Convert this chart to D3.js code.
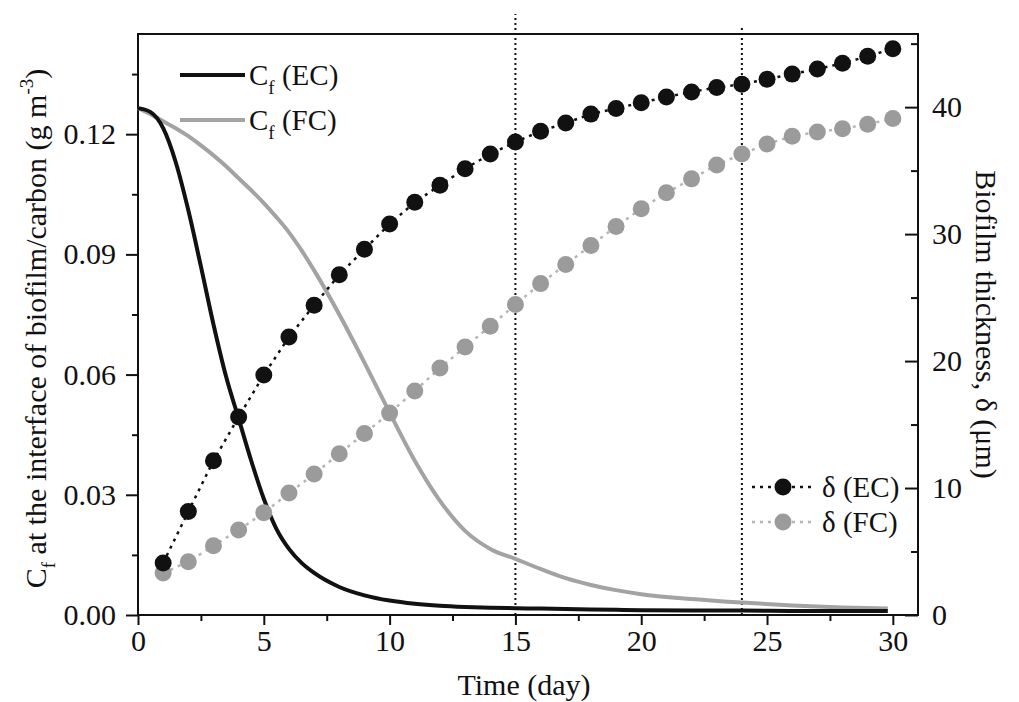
<!DOCTYPE html>
<meta charset="UTF-8">
<style>
    body { margin: 0; background: #fff; }
    text { font-family: "Liberation Serif", "Times New Roman", serif; fill: #111; }
    .axis path, .axis line { stroke: #111; stroke-width: 2px; }
    .axis text { font-size: 30px; font-family: "Liberation Serif", serif; fill: #111; }
</style>
<body>
<div id="chart"></div>
<script src="https://d3js.org/d3.v7.min.js"></script>
<script>

// days of the thickness measurements
var days = [1, 2, 3, 4, 5, 6, 7, 8, 9, 10, 11, 12, 13, 14, 15,
            16, 17, 18, 19, 20, 21, 22, 23, 24, 25, 26, 27, 28, 29, 30];

// biofilm thickness (um), right axis
var deltaEC = [4.1, 8.15, 12.15, 15.6, 18.9, 21.9, 24.4, 26.8, 28.8, 30.8,
               32.5, 33.85, 35.15, 36.3, 37.25, 38.1, 38.75, 39.45, 39.9, 40.35,
               40.8, 41.2, 41.55, 41.8, 42.2, 42.6, 43.0, 43.45, 44.0, 44.6];
var deltaFC = [3.3, 4.2, 5.45, 6.7, 8.05, 9.6, 11.1, 12.7, 14.3, 15.9,
               17.65, 19.45, 21.1, 22.75, 24.45, 26.1, 27.6, 29.1, 30.6, 32.0,
               33.25, 34.35, 35.45, 36.3, 37.1, 37.7, 38.05, 38.3, 38.65, 39.1];

// Cf at the interface (g m-3), left axis
var cfTime = [0, 0.5, 1, 1.5, 2, 2.5, 3, 3.5, 4, 4.5, 5, 5.5, 6, 6.5, 7, 8, 9, 10,
              11, 12, 13, 14, 15, 16, 17, 18, 19, 20, 22, 24, 26, 28, 29.8];
var cfEC = [0.1265, 0.1255, 0.1215, 0.1130, 0.1010, 0.0870, 0.0725, 0.0595, 0.0490,
            0.0385, 0.0290, 0.0215, 0.0165, 0.0130, 0.0105, 0.0070, 0.0049, 0.0036,
            0.0028, 0.0023, 0.0020, 0.0018, 0.0017, 0.0016, 0.0015, 0.0014, 0.0013,
            0.0012, 0.0011, 0.0011, 0.0010, 0.0010, 0.0010];
var cfFC = [0.1265, 0.1250, 0.1232, 0.1215, 0.1195, 0.1172, 0.1147, 0.1120, 0.1090,
            0.1060, 0.1028, 0.0993, 0.0955, 0.0910, 0.0860, 0.0750, 0.0630, 0.0505,
            0.0385, 0.0285, 0.0210, 0.0165, 0.0140, 0.0115, 0.0092, 0.0075, 0.0062,
            0.0052, 0.0040, 0.0031, 0.0024, 0.0019, 0.0016];

// dotted marker lines
var markerDays = [15, 24];
var markerTops = [0.150, 0.1465];

// tick values
var xTicks = [0, 5, 10, 15, 20, 25, 30];
var xMinor = [2.5, 7.5, 12.5, 17.5, 22.5, 27.5];
var yTicks = [0, 0.03, 0.06, 0.09, 0.12];
var yMinor = [0.015, 0.045, 0.075, 0.105, 0.135];
var y2Ticks = [0, 10, 20, 30, 40];
var y2Minor = [5, 15, 25, 35, 45];

var width = 1019, height = 702;
var plotL = 138, plotR = 918, plotT = 34, plotB = 615;

var black = "#111", grey = "#a3a3a3";

// set the ranges
var x = d3.scaleLinear().domain([0, 31]).range([plotL, plotR]);
var y = d3.scaleLinear().domain([0, 0.145]).range([plotB, plotT]);
var y2 = d3.scaleLinear().domain([0, 45.76]).range([plotB, plotT]);

var svg = d3.select("#chart").append("svg")
    .attr("width", width)
    .attr("height", height);

// frame
svg.append("rect")
    .attr("x", plotL).attr("y", plotT)
    .attr("width", plotR - plotL).attr("height", plotB - plotT)
    .attr("fill", "none").attr("stroke", black).attr("stroke-width", 2);

// vertical dotted lines
markerDays.forEach(function(d, i) {
    svg.append("line")
        .attr("x1", x(d)).attr("x2", x(d))
        .attr("y1", y(0)).attr("y2", y(markerTops[i]))
        .attr("stroke", black).attr("stroke-width", 2)
        .attr("stroke-dasharray", "2,3");
});

// Cf lines
var cfLine = function(vals) {
    return d3.line()
        .x(function(d, i) { return x(cfTime[i]); })
        .y(function(d) { return y(d); })
        .curve(d3.curveMonotoneX)(vals);
};
svg.append("path").attr("d", cfLine(cfFC))
    .attr("fill", "none").attr("stroke", grey).attr("stroke-width", 4);
svg.append("path").attr("d", cfLine(cfEC))
    .attr("fill", "none").attr("stroke", black).attr("stroke-width", 4);

// thickness series
var dLine = d3.line()
    .x(function(d, i) { return x(days[i]); })
    .y(function(d) { return y2(d); });

function drawSeries(vals, color, dotColor) {
    svg.append("path").attr("d", dLine(vals))
        .attr("fill", "none").attr("stroke", color).attr("stroke-width", 2.5)
        .attr("stroke-dasharray", "3,5");
    svg.append("g").selectAll("circle")
        .data(vals)
        .enter().append("circle")
        .attr("cx", function(d, i) { return x(days[i]); })
        .attr("cy", function(d) { return y2(d); })
        .attr("r", 8.5)
        .attr("fill", dotColor);
}
drawSeries(deltaFC, "#b5b5b5", "#9b9b9b");
drawSeries(deltaEC, black, black);

// axes
svg.append("g").attr("class", "axis")
    .attr("transform", "translate(0," + plotB + ")")
    .call(d3.axisBottom(x).tickValues(xTicks).tickSize(10).tickPadding(5).tickSizeOuter(0));
svg.append("g").attr("class", "axis")
    .attr("transform", "translate(0," + plotB + ")")
    .call(d3.axisBottom(x).tickValues(xMinor).tickSize(6).tickFormat("").tickSizeOuter(0));

svg.append("g").attr("class", "axis")
    .attr("transform", "translate(" + plotL + ",0)")
    .call(d3.axisLeft(y).tickValues(yTicks).tickSize(12).tickPadding(10)
        .tickFormat(d3.format(".2f")).tickSizeOuter(0));
svg.append("g").attr("class", "axis")
    .attr("transform", "translate(" + plotL + ",0)")
    .call(d3.axisLeft(y).tickValues(yMinor).tickSize(6).tickFormat("").tickSizeOuter(0));

svg.append("g").attr("class", "axis")
    .attr("transform", "translate(" + plotR + ",0)")
    .call(d3.axisRight(y2).tickValues(y2Ticks).tickSize(-13).tickPadding(14).tickSizeOuter(0));
svg.append("g").attr("class", "axis")
    .attr("transform", "translate(" + plotR + ",0)")
    .call(d3.axisRight(y2).tickValues(y2Minor).tickSize(-7).tickFormat("").tickSizeOuter(0));

svg.selectAll(".axis .domain").remove();

// axis titles
svg.append("text")
    .attr("x", (plotL + plotR) / 2 - 4).attr("y", 695)
    .attr("text-anchor", "middle").style("font-size", "30px")
    .text("Time (day)");

var yt = svg.append("text")
    .attr("transform", "translate(46," + ((plotT + plotB) / 2 + 4) + ") rotate(-90)")
    .attr("text-anchor", "middle").style("font-size", "30px");
yt.append("tspan").text("C");
yt.append("tspan").attr("dy", 9).style("font-size", "19px").text("f");
yt.append("tspan").attr("dy", -9).text(" at the interface of biofilm/carbon (g m");
yt.append("tspan").attr("dy", -13).style("font-size", "19px").text("-3");
yt.append("tspan").attr("dy", 13).text(")");

svg.append("text")
    .attr("transform", "translate(976," + ((plotT + plotB) / 2) + ") rotate(90)")
    .attr("text-anchor", "middle").style("font-size", "30px")
    .text("Biofilm thickness, \u03b4 (\u03bcm)");

// legend for Cf
function cfLegend(yy, color, label) {
    svg.append("line")
        .attr("x1", 180).attr("x2", 245).attr("y1", yy).attr("y2", yy)
        .attr("stroke", color).attr("stroke-width", 4);
    var t = svg.append("text").attr("x", 249).attr("y", yy + 10).style("font-size", "29px");
    t.append("tspan").text("C");
    t.append("tspan").attr("dy", 9).style("font-size", "19px").text("f");
    t.append("tspan").attr("dy", -9).text(" (" + label + ")");
}
cfLegend(75, black, "EC");
cfLegend(120, grey, "FC");

// legend for thickness
function dLegend(yy, color, dotColor, label) {
    svg.append("line")
        .attr("x1", 752).attr("x2", 816).attr("y1", yy).attr("y2", yy)
        .attr("stroke", color).attr("stroke-width", 2.5)
        .attr("stroke-dasharray", "3,5");
    svg.append("circle").attr("cx", 783).attr("cy", yy).attr("r", 8.5).attr("fill", dotColor);
    svg.append("text").attr("x", 822).attr("y", yy + 10).style("font-size", "29px")
        .text("\u03b4 (" + label + ")");
}
dLegend(487, black, black, "EC");
dLegend(522, "#b5b5b5", "#9b9b9b", "FC");

</script>
</body>
